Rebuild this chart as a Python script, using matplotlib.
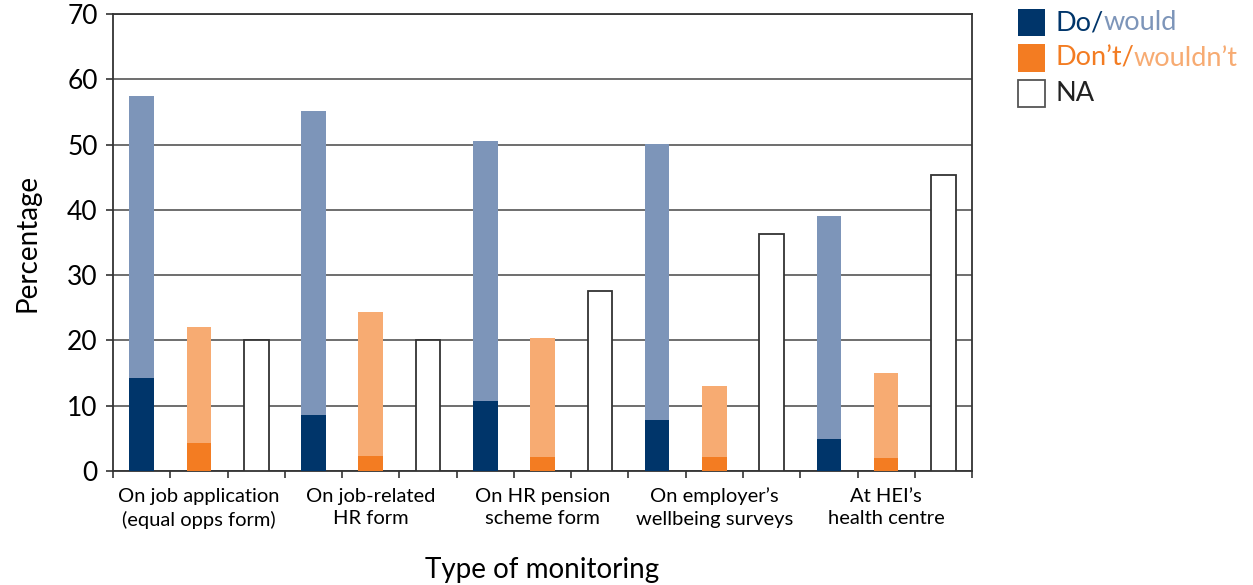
import matplotlib
matplotlib.use("Agg")
import matplotlib.pyplot as plt
import numpy as np
from matplotlib.patches import Rectangle

plt.rcParams['font.family'] = ['Lato', 'DejaVu Sans']

# data
categories = [
    "On job application\n(equal opps form)",
    "On job-related\nHR form",
    "On HR pension\nscheme form",
    "On employer\u2019s\nwellbeing surveys",
    "At HEI\u2019s\nhealth centre",
]
do_vals = [14.2, 8.5, 10.7, 7.8, 4.9]
would_tot = [57.4, 55.1, 50.5, 50.1, 39.0]      # top of do + would bar
dont_vals = [4.3, 2.3, 2.1, 2.1, 2.0]
wouldnt_tot = [22.0, 24.3, 20.4, 13.0, 15.0]    # top of don't + wouldn't bar
na_vals = [20.1, 20.1, 27.5, 36.3, 45.3]
yticks = [0, 10, 20, 30, 40, 50, 60, 70]

dark_blue = "#00356a"
light_blue = "#7d95b9"
orange = "#f37c22"
light_orange = "#f7ab72"
grid_col = "#555555"

fig = plt.figure(figsize=(12.53, 5.85), dpi=100)
ax = fig.add_axes([0.0902, 0.1949, 0.6856, 0.7812])

n = len(categories)
base = np.arange(n) * 3
w = 0.43

do = np.array(do_vals)
dont = np.array(dont_vals)
ax.bar(base, do, w, color=dark_blue, linewidth=0, zorder=3)
ax.bar(base, np.array(would_tot) - do, w, bottom=do, color=light_blue,
       linewidth=0, zorder=3)
ax.bar(base + 1, dont, w, color=orange, linewidth=0, zorder=3)
ax.bar(base + 1, np.array(wouldnt_tot) - dont, w, bottom=dont,
       color=light_orange, linewidth=0, zorder=3)
ax.bar(base + 2, na_vals, w, color="white", edgecolor="#333333",
       linewidth=1.3, zorder=3)

ax.set_xlim(-0.5, 3 * n - 0.5)
ax.set_ylim(0, 70)
ax.set_yticks(yticks)
ax.tick_params(axis="y", labelsize=19, length=5, width=1.2, color="#333333",
               pad=6)
ax.yaxis.grid(True, color=grid_col, linewidth=1.2)
ax.set_axisbelow(True)

# labels at group centres, ticks at every bar boundary
ax.set_xticks(base + 1)
ax.set_xticklabels(categories, fontsize=14.5, linespacing=1.4)
ax.tick_params(axis="x", which="major", length=0, pad=12)
ax.set_xticks(np.arange(-0.5, 3 * n, 1), minor=True)
ax.tick_params(axis="x", which="minor", length=5, width=1.2, color="#333333")

for s in ax.spines.values():
    s.set_color("#333333")
    s.set_linewidth(1.3)

ax.set_ylabel("Percentage", fontsize=20, labelpad=19)
ax.set_xlabel("Type of monitoring", fontsize=20, labelpad=20)

# legend with two-tone labels
rows = [
    (dark_blue, None, [("Do/", dark_blue), ("would", light_blue)]),
    (orange, None, [("Don\u2019t/", orange), ("wouldn\u2019t", light_orange)]),
    ("white", "#555555", [("NA", "#222222")]),
]
top = 1 - 9 / 585
step = 35.5 / 585
sq_w, sq_h = 27 / 1253, 27 / 585
for i, (fc, ec, parts) in enumerate(rows):
    y0 = top - i * step - sq_h
    fig.add_artist(Rectangle((1018 / 1253, y0), sq_w, sq_h,
                             transform=fig.transFigure, facecolor=fc,
                             edgecolor=ec if ec else fc,
                             linewidth=1.3 if ec else 0))
    prev = fig.text(1055 / 1253, y0 + sq_h / 2, parts[0][0],
                    color=parts[0][1], fontsize=19.5, va="center", ha="left")
    for txt, col in parts[1:]:
        prev = ax.annotate(txt, xy=(1, 0.5), xycoords=prev, va="center",
                           ha="left", color=col, fontsize=19.5,
                           annotation_clip=False)

fig.savefig("out.png", dpi=100)
